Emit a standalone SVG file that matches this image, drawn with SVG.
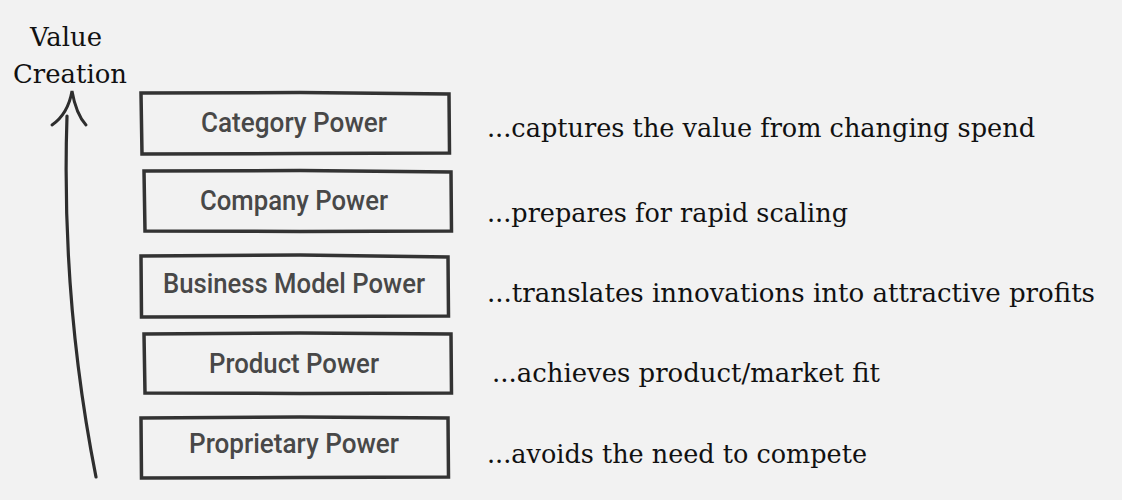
<svg xmlns="http://www.w3.org/2000/svg" width="1122" height="500" viewBox="0 0 1122 500">
  <style>
    .frame { fill: none; stroke: #333333; stroke-width: 3.5; stroke-linejoin: miter; stroke-linecap: square; }
    .label { font-family: Roboto, "Liberation Sans", sans-serif; font-weight: 500; font-size: 27px; fill: #484848; text-anchor: middle; }
    .note { font-family: "DejaVu Serif", "Liberation Serif", serif; font-size: 26px; fill: #111111; }
    .axis { fill: none; stroke: #2e2e2e; stroke-linecap: round; }
  </style>
  <rect width="1122" height="500" fill="#f2f2f2"/>

  <!-- axis title -->
  <g id="axis-title">
    <text class="note" x="66" y="46" text-anchor="middle" textLength="72" lengthAdjust="spacingAndGlyphs">Value</text>
    <text class="note" x="70" y="83" text-anchor="middle" textLength="114" lengthAdjust="spacingAndGlyphs">Creation</text>
  </g>

  <!-- rising arrow -->
  <g id="connectors">
    <path class="axis" stroke-width="3.2" d="M96,477 Q61,300 67,116"/>
    <path class="axis" stroke-width="3" d="M52,125 Q68,114 72,91 Q76,114 86,125"/>
  </g>

  <!-- stacked power levels, hand-drawn frames -->
  <g id="category-power">
    <path class="frame" d="M141,93 L300,92.5 L449,94 L449.5,153 L300,153.5 L142,154 Z"/>
    <text class="label" x="294" y="132" textLength="186" lengthAdjust="spacingAndGlyphs">Category Power</text>
  </g>
  <g id="company-power">
    <path class="frame" d="M144,171 L300,170.5 L451,172 L451.5,231 L300,231.5 L145,231 Z"/>
    <text class="label" x="294" y="210" textLength="188" lengthAdjust="spacingAndGlyphs">Company Power</text>
  </g>
  <g id="business-model-power">
    <path class="frame" d="M141,256 L300,255 L448,257 L448.5,316 L300,316.5 L141.5,317 Z"/>
    <text class="label" x="294" y="293" textLength="262" lengthAdjust="spacingAndGlyphs">Business Model Power</text>
  </g>
  <g id="product-power">
    <path class="frame" d="M144,334 L300,333 L451,334 L451.5,393 L300,393.5 L145,393 Z"/>
    <text class="label" x="294" y="373" textLength="170" lengthAdjust="spacingAndGlyphs">Product Power</text>
  </g>
  <g id="proprietary-power">
    <path class="frame" d="M141,418 L300,417 L448,418 L448.5,477 L300,477.5 L141.5,478 Z"/>
    <text class="label" x="294" y="453" textLength="210" lengthAdjust="spacingAndGlyphs">Proprietary Power</text>
  </g>

  <!-- descriptions -->
  <g id="descriptions">
    <text class="note" x="487" y="137" textLength="548" lengthAdjust="spacingAndGlyphs">...captures the value from changing spend</text>
    <text class="note" x="487" y="222" textLength="361" lengthAdjust="spacingAndGlyphs">...prepares for rapid scaling</text>
    <text class="note" x="487" y="302" textLength="608" lengthAdjust="spacingAndGlyphs">...translates innovations into attractive profits</text>
    <text class="note" x="492" y="382" textLength="388" lengthAdjust="spacingAndGlyphs">...achieves product/market fit</text>
    <text class="note" x="487" y="463" textLength="380" lengthAdjust="spacingAndGlyphs">...avoids the need to compete</text>
  </g>
</svg>
